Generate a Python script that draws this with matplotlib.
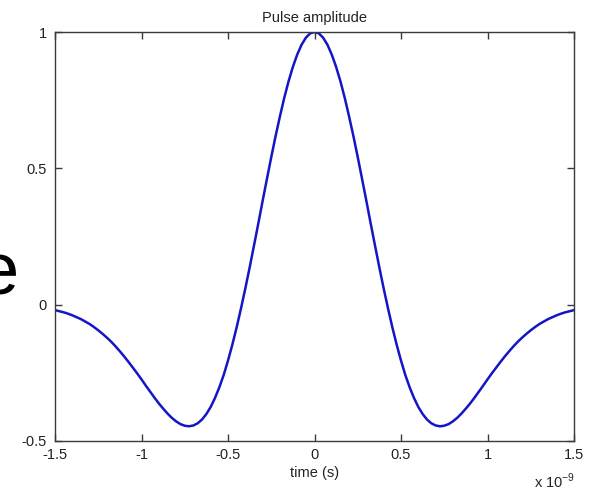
import matplotlib.pyplot as plt
import numpy as np

plt.rcParams['font.family'] = ['Liberation Sans', 'DejaVu Sans']
plt.rcParams['mathtext.fontset'] = 'custom'
plt.rcParams['mathtext.rm'] = 'Liberation Sans'

# pulse samples, time in units of 1e-9 s (step 0.025)
t_ns = np.arange(-1.5, 1.5001, 0.025)
amplitude = [
    -0.020, -0.024, -0.028, -0.033, -0.039, -0.046, -0.053, -0.062, -0.071, -0.082,
    -0.094, -0.107, -0.121, -0.136, -0.153, -0.171, -0.190, -0.210, -0.231, -0.252,
    -0.274, -0.297, -0.319, -0.341, -0.362, -0.381, -0.399, -0.415, -0.428, -0.438,
    -0.444, -0.446, -0.443, -0.435, -0.421, -0.401, -0.375, -0.342, -0.303, -0.258,
    -0.205, -0.147, -0.083, -0.014, 0.059, 0.136, 0.216, 0.297, 0.380, 0.461,
    0.541, 0.618, 0.690, 0.758, 0.819, 0.872, 0.917, 0.953, 0.979, 0.995,
    1.000,
    0.995, 0.979, 0.953, 0.917, 0.872, 0.819, 0.758, 0.690, 0.618, 0.541,
    0.461, 0.380, 0.297, 0.216, 0.136, 0.059, -0.014, -0.083, -0.147, -0.205,
    -0.258, -0.303, -0.342, -0.375, -0.401, -0.421, -0.435, -0.443, -0.446, -0.444,
    -0.438, -0.428, -0.415, -0.399, -0.381, -0.362, -0.341, -0.319, -0.297, -0.274,
    -0.252, -0.231, -0.210, -0.190, -0.171, -0.153, -0.136, -0.121, -0.107, -0.094,
    -0.082, -0.071, -0.062, -0.053, -0.046, -0.039, -0.033, -0.028, -0.024, -0.020,
]
x_ticks = [-1.5, -1, -0.5, 0, 0.5, 1, 1.5]
x_ticklabels = ["-1.5", "-1", "-0.5", "0", "0.5", "1", "1.5"]
y_ticks = [-0.5, 0, 0.5, 1]
y_ticklabels = ["-0.5", "0", "0.5", "1"]

fig = plt.figure(figsize=(5.96, 4.91), dpi=100)
ax = fig.add_axes([55 / 596, 1 - 441 / 491, 519 / 596, 409 / 491])

t = t_ns * 1e-9
ax.plot(t, amplitude, color="#1515c8", linewidth=1.8)

ax.set_xlim(-1.5e-9, 1.5e-9)
ax.set_ylim(-0.5, 1)
ax.set_xticks([v * 1e-9 for v in x_ticks])
ax.set_xticklabels(x_ticklabels)
ax.set_yticks(y_ticks)
ax.set_yticklabels(y_ticklabels)

for s in ax.spines.values():
    s.set_color("#3a3a3a")
    s.set_linewidth(1.0)
ax.tick_params(direction="in", length=5, width=1.0, color="#3a3a3a",
               top=True, right=True, labelsize=10.5, labelcolor="#222222")
ax.tick_params(axis="x", pad=5)
ax.tick_params(axis="y", pad=6)

ax.set_title("Pulse amplitude", fontsize=10.5, color="#222222", pad=7)
ax.set_xlabel("time (s)", fontsize=10.5, color="#222222", labelpad=3)
fig.text(534 / 596, 3 / 491, "x 10$^{\\mathregular{-9}}$", fontsize=10.5,
         color="#222222", ha="left", va="baseline")

# oversized axis caption, mostly running off the left edge
fig.text(20 / 596, 1 - 294 / 491, "Amplitude", fontsize=54, color="black",
         ha="right", va="baseline")

fig.savefig("out.png", dpi=100)
